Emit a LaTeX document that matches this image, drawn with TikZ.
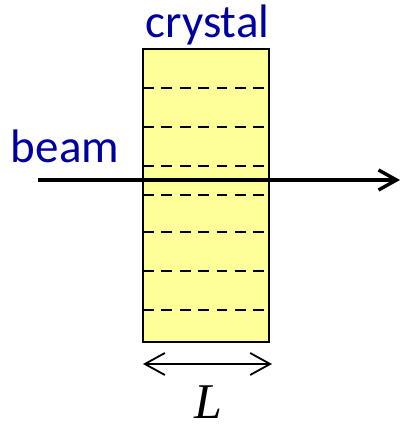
\documentclass[tikz,border=0pt]{standalone}
\usepackage{fontspec}
\setmainfont{Carlito}
\newfontfamily\timesfont{Liberation Serif}
\usetikzlibrary{arrows.meta}
\definecolor{labelblue}{HTML}{0000A0}
\definecolor{xtalfill}{HTML}{FFFF99}
\tikzset{
  xtalbox/.style={draw=black, fill=xtalfill, line width=1pt, inner sep=0pt,
                  minimum width=63pt, minimum height=146.5pt},
  lbl/.style={text=labelblue, inner sep=0pt, anchor=base,
              font=\fontsize{23.5}{28}\selectfont},
  layer/.style={line width=1.2pt, dash pattern=on 5.4pt off 3.8pt},
  beamline/.style={-{Straight Barb[length=9pt, width=10pt]}, line width=1.7pt},
  dimline/.style={{Straight Barb[length=10pt, width=11pt]}-{Straight Barb[length=10pt, width=11pt]}, line width=0.9pt},
}
\begin{document}
\begin{tikzpicture}[x=0.5pt, y=-0.5pt]
  \useasboundingbox (0,0) rectangle (402,426);
  % crystal block with its layers
  \node[xtalbox] (xtal) at (206,195.5) {};
  \foreach \yy in {88,127,166,195,232,271,310}
    \draw[layer] (143,\yy) -- (266,\yy);
  \node[lbl] (xtallbl) at (207.5,38) {crystal};
  % beam through the crystal
  \coordinate (beamin) at (38,180);
  \coordinate (beamout) at (400,180);
  \draw[beamline] (beamin) -- (beamout);
  \node[lbl] (beamlbl) at (65,163) {beam};
  % thickness
  \coordinate (lleft) at (143,364);
  \coordinate (lright) at (272,364);
  \draw[dimline] (lleft) -- (lright);
  \node[inner sep=0pt, anchor=base, font=\timesfont\itshape\fontsize{25}{30}\selectfont] (llbl) at (208,418) {L};
\end{tikzpicture}
\end{document}
